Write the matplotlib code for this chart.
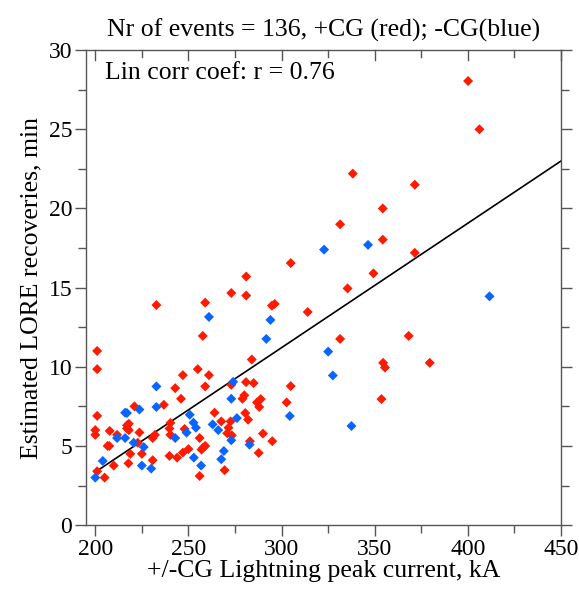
import numpy as np
import matplotlib
matplotlib.use("Agg")
import matplotlib.pyplot as plt
from matplotlib.ticker import MultipleLocator

# +CG events (red)
pos_current = [201, 201, 201, 200, 200, 201, 205, 207.7, 206.6, 207.5, 211.7, 209.9,
               217, 218, 217, 218, 218.8, 217.8, 221, 223.7, 222.8, 225, 230.8, 230.8,
               232, 232.8, 236.8, 240.3, 239.8, 240.3, 239.8, 242.9, 246, 243.9, 247,
               247, 250, 247.9, 255, 259, 257.7, 259, 261, 256, 257, 258, 259, 256,
               264, 267.6, 272.6, 273, 271.5, 270.8, 273.3, 269.4, 273, 281, 281, 280.9,
               279, 280, 280.5, 282, 283, 284, 285, 287.7, 286.8, 288.8, 288, 290,
               294.8, 296.3, 295, 302.7, 304.9, 304.9, 314, 331.4, 338.2, 354.3, 354.3,
               371.5, 371.5, 349.3, 335.4, 331.4, 368.2, 354.5, 355.5, 379.5, 353.6,
               400.1, 406.2]
pos_recovery = [11.0, 9.85, 6.9, 6.0, 5.7, 3.4, 3.0, 5.95, 5.0, 5.0, 5.7, 3.76,
                6.3, 6.4, 6.1, 6.0, 4.5, 3.9, 7.5, 5.85, 5.2, 4.5, 4.1, 5.5,
                5.7, 13.9, 7.6, 6.45, 6.1, 5.7, 4.37, 8.65, 7.98, 4.26, 9.47,
                4.58, 4.8, 6.07, 9.85, 14.05, 11.95, 8.76, 9.47, 5.5, 4.77, 4.9, 5.0, 3.1,
                7.1, 6.55, 6.55, 8.86, 6.15, 5.8, 5.67, 3.47, 14.66, 15.7, 14.5, 9.03,
                7.98, 8.2, 7.08, 6.66, 5.3, 10.46, 8.97, 4.56, 7.75, 7.96, 7.46, 5.78,
                13.86, 13.97, 5.3, 7.75, 8.78, 16.55, 13.46, 19.0, 22.2, 20.0, 18.03,
                21.5, 17.2, 15.9, 14.95, 11.76, 11.95, 10.25, 9.95, 10.25, 7.96,
                28.05, 25.0]

# -CG events (blue)
neg_current = [200, 204, 211.7, 216, 216, 217, 220.6, 223.7, 226, 225, 230, 232.8,
               232.8, 242.9, 249, 250.7, 252.7, 254, 252.9, 256.8, 261, 263, 266, 269,
               267.6, 273, 274, 273, 276, 282.8, 291.8, 294, 304.4, 322.8, 325,
               346.4, 411.6, 327.5, 337.5]
neg_recovery = [3.0, 4.05, 5.5, 5.5, 7.1, 7.08, 5.2, 7.3, 4.93, 3.76, 3.57, 8.76,
                7.46, 5.5, 5.84, 6.97, 6.47, 6.15, 4.26, 3.76, 13.15, 6.36, 6.0, 4.68,
                4.16, 5.36, 9.05, 7.98, 6.76, 5.08, 11.76, 12.96, 6.89, 17.4, 10.96,
                17.7, 14.45, 9.45, 6.26]

# linear fit
fit_slope = 0.0786
fit_intercept = -12.37
fit_range = [200, 450]

plt.rcParams['font.family'] = ['Liberation Serif', 'DejaVu Serif']

fig = plt.figure(figsize=(5.79, 5.90), dpi=100)
ax = fig.add_axes([0.1485, 0.110, 0.8205, 0.805])

ax.scatter(pos_current, pos_recovery, marker='D', s=26, color='#ff1a00',
           edgecolors='none', zorder=3)
ax.scatter(neg_current, neg_recovery, marker='D', s=26, color='#0a64ff',
           edgecolors='none', zorder=3)

fx = np.array(fit_range)
ax.plot(fx, fit_intercept + fit_slope * fx, color='black', lw=1.2, zorder=2)

ax.set_xlim(195, 450)
ax.set_ylim(0, 30)
ax.xaxis.set_major_locator(MultipleLocator(50))
ax.xaxis.set_minor_locator(MultipleLocator(25))
ax.yaxis.set_major_locator(MultipleLocator(5))
ax.yaxis.set_minor_locator(MultipleLocator(2.5))

ax.tick_params(which='both', direction='out', color='#555555', width=1,
               right=True, top=False, labelsize=17, pad=2)
ax.tick_params(which='major', length=8)
ax.tick_params(which='minor', length=6)
for spine in ax.spines.values():
    spine.set_edgecolor('#555555')
    spine.set_linewidth(1)

# inward ticks along the top edge
for xv in np.arange(200, 451, 25):
    ax.plot([xv, xv], [30, 30 - (0.6 if xv % 50 == 0 else 0.42)],
            color='#555555', lw=1, clip_on=False)

ax.set_xlabel('+/-CG Lightning peak current, kA', fontsize=18.5, labelpad=0)
ax.set_ylabel('Estimated LORE recoveries, min', fontsize=18.5, labelpad=4)
ax.set_title('Nr of events = 136, +CG (red); -CG(blue)', fontsize=18.5, pad=10)
ax.text(0.04, 0.975, 'Lin corr coef: r = 0.76', transform=ax.transAxes,
        ha='left', va='top', fontsize=18.5)

fig.savefig('out.png', dpi=100)
